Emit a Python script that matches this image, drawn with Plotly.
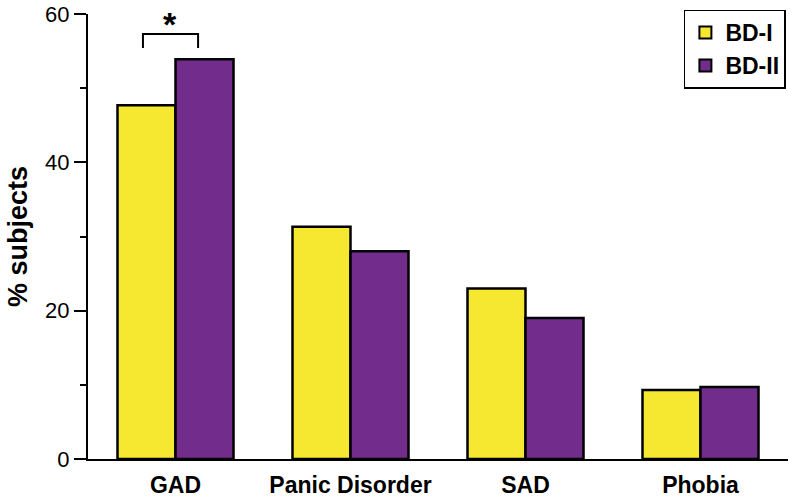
import plotly.graph_objects as go

categories = ["GAD", "Panic Disorder", "SAD", "Phobia"]
bd1_values = [47.7, 31.3, 23.0, 9.3]
bd2_values = [53.9, 28.0, 19.0, 9.7]
series_names = ["BD-I", "BD-II"]
y_ticks = [0, 20, 40, 60]

YELLOW = "#F6E731"
PURPLE = "#722C8C"
FONT = "Liberation Sans, Arial, Helvetica, sans-serif"

fig = go.Figure()
fig.add_trace(go.Bar(x=categories, y=bd1_values, name=series_names[0],
                     marker=dict(color=YELLOW, line=dict(color="black", width=2.5))))
fig.add_trace(go.Bar(x=categories, y=bd2_values, name=series_names[1],
                     marker=dict(color=PURPLE, line=dict(color="black", width=2.5))))

# significance bracket between GAD bars
fig.add_shape(type="path", xref="x", yref="y",
              path="M -0.186,55.4 L -0.186,57.3 L 0.129,57.3 L 0.129,55.4",
              line=dict(color="black", width=2))
fig.add_annotation(x=-0.03, y=58.6, xref="x", yref="y", text="<b>*</b>",
                   showarrow=False, font=dict(size=34, color="black", family=FONT),
                   yanchor="middle")

fig.update_layout(
    width=794, height=500,
    margin=dict(l=88, r=6, t=14, b=41, autoexpand=False),
    plot_bgcolor="white", paper_bgcolor="white",
    barmode="group", bargap=0.337, bargroupgap=0,
    font=dict(family=FONT, color="black"),
    showlegend=True,
    legend=dict(x=0.997, y=1.01, xanchor="right", yanchor="top",
                bordercolor="black", borderwidth=1.5, bgcolor="white",
                font=dict(size=23, family=FONT, color="black"),
                itemsizing="constant", tracegroupgap=4, itemwidth=30),
    xaxis=dict(showline=True, linecolor="black", linewidth=2, ticks="",
               tickvals=categories,
               ticktext=["<b>%s</b>" % c for c in categories],
               tickfont=dict(size=23, family=FONT, color="black"),
               ticklabelstandoff=4, automargin=False,
               showgrid=False, zeroline=False, fixedrange=True),
    yaxis=dict(range=[0, 60], tickvals=y_ticks, showline=True, linecolor="black",
               linewidth=2, ticks="outside", ticklen=12, tickwidth=2, tickcolor="black",
               minor=dict(ticks="outside", ticklen=6, tickwidth=2, tickcolor="black", dtick=10, showgrid=False),
               tickfont=dict(size=22, family=FONT, color="black"),
               ticklabeloverflow="allow", automargin=False,
               title=dict(text="<b>% subjects</b>", font=dict(size=27, family=FONT, color="black"), standoff=10),
               showgrid=False, zeroline=False),
)
fig.for_each_trace(lambda t: t.update(name="<b>%s</b>" % t.name))

fig.write_html("out.html")
